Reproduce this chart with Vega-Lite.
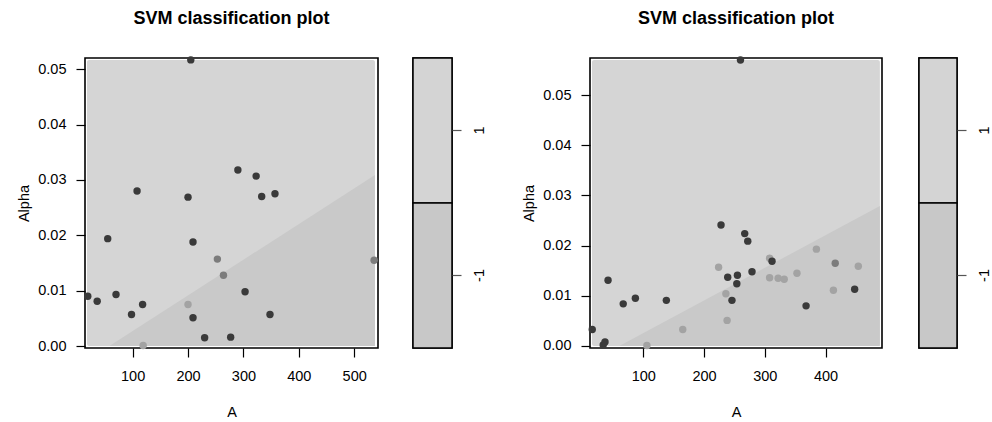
{
  "$schema": "https://vega.github.io/schema/vega-lite/v6.json",
  "background": "white",
  "padding": {"left": 15, "top": 9, "right": 5, "bottom": 5},
  "config": {
    "font": "Liberation Sans",
    "view": {"stroke": "black", "strokeWidth": 1.6},
    "axis": {
      "domain": false,
      "grid": false,
      "ticks": true,
      "tickColor": "black",
      "tickWidth": 1.2,
      "tickSize": 9,
      "labelFont": "Liberation Sans",
      "labelFontSize": 14.5,
      "labelColor": "black",
      "titleFont": "Liberation Sans",
      "titleFontSize": 14.5,
      "titleFontWeight": "normal",
      "titleColor": "black"
    },
    "axisX": {"labelPadding": 12, "titlePadding": 23},
    "axisY": {"labelPadding": 10, "titlePadding": 6, "labelAngle": 0},
    "title": {
      "font": "Liberation Sans",
      "fontSize": 18,
      "fontWeight": "bold",
      "color": "black",
      "anchor": "middle",
      "baseline": "alphabetic",
      "offset": 28
    }
  },
  "datasets": {
    "left_region": [{"A": 17.6, "A2": 537.5, "Alpha": 0, "Alpha2": 0.0517}],
    "left_boundary": [{"A": 58, "Alpha": 0}, {"A": 537.5, "Alpha": 0.0309}],
    "left_points": [
      {"A": 200, "Alpha": 0.0075, "group": "g3"},
      {"A": 119, "Alpha": 0.0001, "group": "g3"},
      {"A": 253, "Alpha": 0.0157, "group": "g2"},
      {"A": 264, "Alpha": 0.0128, "group": "g2"},
      {"A": 536, "Alpha": 0.0155, "group": "g2"},
      {"A": 205, "Alpha": 0.0517, "group": "g1"},
      {"A": 290, "Alpha": 0.0318, "group": "g1"},
      {"A": 323, "Alpha": 0.0307, "group": "g1"},
      {"A": 333, "Alpha": 0.027, "group": "g1"},
      {"A": 357, "Alpha": 0.0275, "group": "g1"},
      {"A": 108, "Alpha": 0.028, "group": "g1"},
      {"A": 200, "Alpha": 0.0269, "group": "g1"},
      {"A": 55, "Alpha": 0.0194, "group": "g1"},
      {"A": 209, "Alpha": 0.0188, "group": "g1"},
      {"A": 19, "Alpha": 0.009, "group": "g1"},
      {"A": 36, "Alpha": 0.0081, "group": "g1"},
      {"A": 70, "Alpha": 0.0093, "group": "g1"},
      {"A": 98, "Alpha": 0.0057, "group": "g1"},
      {"A": 118, "Alpha": 0.0075, "group": "g1"},
      {"A": 209, "Alpha": 0.0051, "group": "g1"},
      {"A": 303, "Alpha": 0.0098, "group": "g1"},
      {"A": 348, "Alpha": 0.0057, "group": "g1"},
      {"A": 230, "Alpha": 0.0015, "group": "g1"},
      {"A": 277, "Alpha": 0.0016, "group": "g1"}
    ],
    "right_region": [{"A": 15.6, "A2": 489.5, "Alpha": 0, "Alpha2": 0.0570}],
    "right_boundary": [{"A": 60.5, "Alpha": 0}, {"A": 489.5, "Alpha": 0.0279}],
    "right_points": [
      {"A": 106, "Alpha": 0.0001, "group": "g3"},
      {"A": 165, "Alpha": 0.0033, "group": "g3"},
      {"A": 224, "Alpha": 0.0157, "group": "g3"},
      {"A": 236, "Alpha": 0.0104, "group": "g3"},
      {"A": 238, "Alpha": 0.0051, "group": "g3"},
      {"A": 308, "Alpha": 0.0175, "group": "g3"},
      {"A": 308, "Alpha": 0.0136, "group": "g3"},
      {"A": 322, "Alpha": 0.0135, "group": "g3"},
      {"A": 332, "Alpha": 0.0133, "group": "g3"},
      {"A": 353, "Alpha": 0.0145, "group": "g3"},
      {"A": 385, "Alpha": 0.0193, "group": "g3"},
      {"A": 454, "Alpha": 0.0159, "group": "g3"},
      {"A": 413, "Alpha": 0.0111, "group": "g3"},
      {"A": 416, "Alpha": 0.0165, "group": "g2"},
      {"A": 260, "Alpha": 0.057, "group": "g1"},
      {"A": 228, "Alpha": 0.0241, "group": "g1"},
      {"A": 267, "Alpha": 0.0224, "group": "g1"},
      {"A": 272, "Alpha": 0.0209, "group": "g1"},
      {"A": 42, "Alpha": 0.0131, "group": "g1"},
      {"A": 67, "Alpha": 0.0084, "group": "g1"},
      {"A": 87, "Alpha": 0.0095, "group": "g1"},
      {"A": 138, "Alpha": 0.0091, "group": "g1"},
      {"A": 16, "Alpha": 0.0033, "group": "g1"},
      {"A": 34, "Alpha": 0.0002, "group": "g1"},
      {"A": 37, "Alpha": 0.0008, "group": "g1"},
      {"A": 239, "Alpha": 0.0137, "group": "g1"},
      {"A": 255, "Alpha": 0.0141, "group": "g1"},
      {"A": 254, "Alpha": 0.0124, "group": "g1"},
      {"A": 246, "Alpha": 0.0091, "group": "g1"},
      {"A": 279, "Alpha": 0.0148, "group": "g1"},
      {"A": 312, "Alpha": 0.0169, "group": "g1"},
      {"A": 448, "Alpha": 0.0113, "group": "g1"},
      {"A": 368, "Alpha": 0.008, "group": "g1"}
    ],
    "levels": [{"level": "1"}, {"level": "-1"}]
  },
  "spacing": 33,
  "hconcat": [
    {
      "bounds": "flush",
      "spacing": 35,
      "hconcat": [
        {
          "width": 293,
          "height": 290,
          "title": "SVM classification plot",
          "layer": [
            {
              "data": {"name": "left_region"},
              "mark": {"type": "rect", "color": "#d5d5d5", "cornerRadius": 2},
              "encoding": {
                "x": {"field": "A", "type": "quantitative", "title": "A", "scale": {"domain": [14, 543], "nice": false, "zero": false}, "axis": {"values": [100, 200, 300, 400, 500]}},
                "x2": {"field": "A2"},
                "y": {"field": "Alpha", "type": "quantitative", "title": "Alpha", "scale": {"domain": [-0.00036, 0.05204], "nice": false, "zero": false}, "axis": {"values": [0, 0.01, 0.02, 0.03, 0.04, 0.05], "format": ".2f"}},
                "y2": {"field": "Alpha2"}
              }
            },
            {
              "data": {"name": "left_boundary"},
              "mark": {"type": "area", "color": "#c9c9c9", "opacity": 1},
              "encoding": {
                "x": {"field": "A", "type": "quantitative", "title": "A", "scale": {"domain": [14, 543], "nice": false, "zero": false}},
                "y": {"field": "Alpha", "type": "quantitative", "title": "Alpha", "scale": {"domain": [-0.00036, 0.05204], "nice": false, "zero": false}},
                "y2": {"datum": 0}
              }
            },
            {
              "data": {"name": "left_points"},
              "mark": {"type": "circle", "size": 55, "opacity": 1},
              "encoding": {
                "x": {"field": "A", "type": "quantitative", "title": "A", "scale": {"domain": [14, 543], "nice": false, "zero": false}},
                "y": {"field": "Alpha", "type": "quantitative", "title": "Alpha", "scale": {"domain": [-0.00036, 0.05204], "nice": false, "zero": false}},
                "color": {"field": "group", "type": "nominal", "scale": {"domain": ["g1", "g2", "g3"], "range": ["#3a3a3a", "#7c7c7c", "#a3a3a3"]}, "legend": null}
              }
            }
          ]
        },
        {
          "width": 39,
          "height": 290,
          "data": {"name": "levels"},
          "mark": {"type": "rect", "stroke": "black", "strokeWidth": 1.5},
          "encoding": {
            "x": {"datum": 0, "type": "quantitative", "scale": {"domain": [0, 1]}, "axis": null},
            "x2": {"datum": 1},
            "y": {"field": "level", "type": "ordinal", "sort": null, "scale": {"domain": ["1", "-1"], "paddingInner": 0, "paddingOuter": 0}, "axis": {"orient": "right", "title": null, "labelAngle": 270, "tickSize": 9, "tickColor": "#555555", "labelPadding": 11}},
            "fill": {"field": "level", "type": "nominal", "scale": {"domain": ["1", "-1"], "range": ["#d4d4d4", "#c8c8c8"]}, "legend": null}
          }
        }
      ]
    },
    {
      "bounds": "flush",
      "spacing": 37,
      "hconcat": [
        {
          "width": 292,
          "height": 290,
          "title": "SVM classification plot",
          "layer": [
            {
              "data": {"name": "right_region"},
              "mark": {"type": "rect", "color": "#d5d5d5", "cornerRadius": 2},
              "encoding": {
                "x": {"field": "A", "type": "quantitative", "title": "A", "scale": {"domain": [12.3, 493], "nice": false, "zero": false}, "axis": {"values": [100, 200, 300, 400]}},
                "x2": {"field": "A2"},
                "y": {"field": "Alpha", "type": "quantitative", "title": "Alpha", "scale": {"domain": [-0.0004, 0.0574], "nice": false, "zero": false}, "axis": {"values": [0, 0.01, 0.02, 0.03, 0.04, 0.05], "format": ".2f"}},
                "y2": {"field": "Alpha2"}
              }
            },
            {
              "data": {"name": "right_boundary"},
              "mark": {"type": "area", "color": "#c9c9c9", "opacity": 1},
              "encoding": {
                "x": {"field": "A", "type": "quantitative", "title": "A", "scale": {"domain": [12.3, 493], "nice": false, "zero": false}},
                "y": {"field": "Alpha", "type": "quantitative", "title": "Alpha", "scale": {"domain": [-0.0004, 0.0574], "nice": false, "zero": false}},
                "y2": {"datum": 0}
              }
            },
            {
              "data": {"name": "right_points"},
              "mark": {"type": "circle", "size": 55, "opacity": 1},
              "encoding": {
                "x": {"field": "A", "type": "quantitative", "title": "A", "scale": {"domain": [12.3, 493], "nice": false, "zero": false}},
                "y": {"field": "Alpha", "type": "quantitative", "title": "Alpha", "scale": {"domain": [-0.0004, 0.0574], "nice": false, "zero": false}},
                "color": {"field": "group", "type": "nominal", "scale": {"domain": ["g1", "g2", "g3"], "range": ["#3a3a3a", "#7c7c7c", "#a3a3a3"]}, "legend": null}
              }
            }
          ]
        },
        {
          "width": 38,
          "height": 290,
          "data": {"name": "levels"},
          "mark": {"type": "rect", "stroke": "black", "strokeWidth": 1.5},
          "encoding": {
            "x": {"datum": 0, "type": "quantitative", "scale": {"domain": [0, 1]}, "axis": null},
            "x2": {"datum": 1},
            "y": {"field": "level", "type": "ordinal", "sort": null, "scale": {"domain": ["1", "-1"], "paddingInner": 0, "paddingOuter": 0}, "axis": {"orient": "right", "title": null, "labelAngle": 270, "tickSize": 9, "tickColor": "#555555", "labelPadding": 11}},
            "fill": {"field": "level", "type": "nominal", "scale": {"domain": ["1", "-1"], "range": ["#d4d4d4", "#c8c8c8"]}, "legend": null}
          }
        }
      ]
    }
  ],
  "resolve": {"scale": {"color": "independent", "fill": "independent"}}
}
